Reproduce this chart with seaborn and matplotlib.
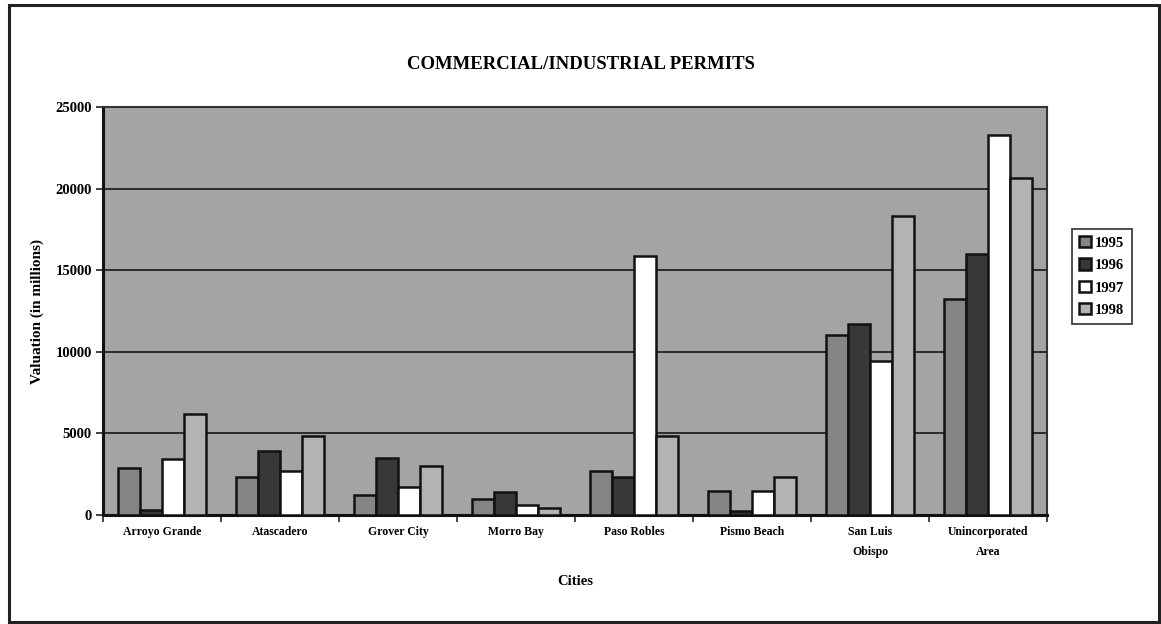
import matplotlib
matplotlib.use("Agg")
import matplotlib.pyplot as plt
from matplotlib.patches import Rectangle
import numpy as np
import pandas as pd
import seaborn as sns

cities = ["Arroyo Grande", "Atascadero", "Grover City", "Morro Bay",
          "Paso Robles", "Pismo Beach", "San Luis\nObispo", "Unincorporated\nArea"]
years = ["1995", "1996", "1997", "1998"]
v1995 = [2850, 2350, 1250, 950, 2700, 1450, 11000, 13250]
v1996 = [300, 3900, 3500, 1400, 2300, 250, 11700, 16000]
v1997 = [3450, 2700, 1700, 600, 15900, 1500, 9450, 23300]
v1998 = [6200, 4850, 3000, 400, 4850, 2300, 18300, 20650]
yticks = [0, 5000, 10000, 15000, 20000, 25000]

df = pd.DataFrame({
    "city": cities * 4,
    "year": [y for y in years for _ in cities],
    "value": v1995 + v1996 + v1997 + v1998,
})

sns.set_theme(style="white")
plt.rcParams["font.family"] = ["Liberation Serif", "DejaVu Serif"]
plt.rcParams["text.color"] = "black"
plt.rcParams["axes.labelcolor"] = "black"
plt.rcParams["xtick.color"] = "black"
plt.rcParams["ytick.color"] = "black"

fig = plt.figure(figsize=(11.61, 6.24), dpi=100)
ax = fig.add_axes([0.0887, 0.1747, 0.8131, 0.6538])
ax.set_facecolor("#a4a4a4")

palette = {"1995": "#858585", "1996": "#383838", "1997": "#ffffff", "1998": "#b3b3b3"}
sns.barplot(data=df, x="city", y="value", hue="year", order=cities,
            hue_order=years, palette=palette, width=0.75, saturation=1,
            edgecolor="#111111", linewidth=1.8, ax=ax, zorder=3)

ax.set_ylim(0, 25000)
ax.set_xlim(-0.5, len(cities) - 0.5)
ax.set_yticks(yticks)
ax.set_yticklabels([str(t) for t in yticks], fontsize=10.5, fontweight="bold")
for t in yticks[1:-1]:
    ax.axhline(t, color="#222222", lw=1.3, zorder=1)

# category labels at centers, tick marks at group boundaries
ax.set_xticks(range(len(cities)))
ax.set_xticklabels(cities, fontsize=8.5, fontweight="bold", linespacing=1.9)
ax.tick_params(axis="x", which="major", length=0, pad=8)
ax.set_xticks(np.arange(-0.5, len(cities) - 0.4, 1), minor=True)
ax.tick_params(axis="x", which="minor", length=5, width=1.2, color="#222222",
               direction="out", bottom=True)
ax.tick_params(axis="y", which="major", length=5, width=1.2, color="#222222",
               direction="out", left=True, pad=3)

for side in ["left", "bottom"]:
    ax.spines[side].set_color("#111111")
    ax.spines[side].set_linewidth(2.2)
for side in ["top", "right"]:
    ax.spines[side].set_color("#333333")
    ax.spines[side].set_linewidth(1.5)

ax.set_xlabel("Cities", fontsize=10.5, fontweight="bold", labelpad=12)
ax.set_ylabel("Valuation (in millions)", fontsize=11, fontweight="bold", labelpad=8)

fig.suptitle("COMMERCIAL/INDUSTRIAL PERMITS", x=0.5, y=0.897, va="center",
             fontsize=13.5, fontweight="bold", color="black")

leg = ax.legend(loc="upper left", bbox_to_anchor=(0.917, 0.645),
                bbox_transform=fig.transFigure, title=None,
                frameon=True, fancybox=False, edgecolor="#111111",
                prop={"size": 10.5, "weight": "bold"},
                handlelength=0.8, handleheight=0.8, handletextpad=0.3,
                labelspacing=0.6, borderpad=0.5)
leg.get_frame().set_linewidth(1.3)

# outer frame around the chart
fig.patches.append(Rectangle((0.008, 0.004), 0.99, 0.988, transform=fig.transFigure,
                             fill=False, edgecolor="#222222", linewidth=2.2))

fig.savefig("out.png", dpi=100)
